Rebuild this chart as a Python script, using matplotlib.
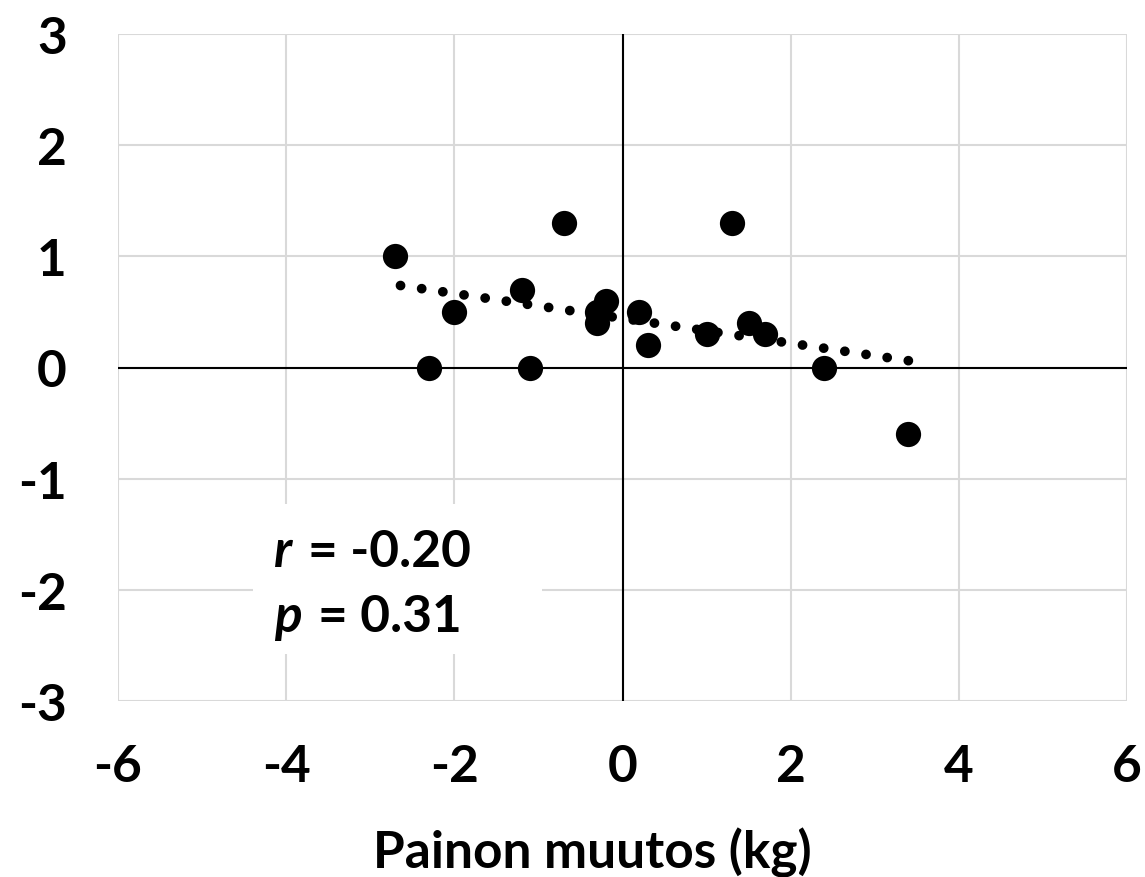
import matplotlib
matplotlib.use("Agg")
import matplotlib.pyplot as plt
import numpy as np
from matplotlib.patches import Rectangle

# Data
weight_change = [-2.7, -2.3, -2.0, -1.2, -1.1, -0.7, -0.3, -0.3, -0.2, 0.2, 0.3, 1.0, 1.3, 1.5, 1.7, 2.4, 3.4]
y_change = [1.0, 0.0, 0.5, 0.7, 0.0, 1.3, 0.4, 0.5, 0.6, 0.5, 0.2, 0.3, 1.3, 0.4, 0.3, 0.0, -0.6]
x_ticks = [-6, -4, -2, 0, 2, 4, 6]
y_ticks = [-3, -2, -1, 0, 1, 2, 3]
x_label = "Painon muutos (kg)"

plt.rcParams['font.family'] = ['Lato', 'DejaVu Sans']
FS = 37
FW = 'bold'

fig = plt.figure(figsize=(11.45, 8.78), dpi=100)
ax = fig.add_axes([118/1145, 1 - 702/878, (1127-118)/1145, (702-35)/878])

ax.set_xlim(-6, 6)
ax.set_ylim(-3, 3)
ax.set_xticks(x_ticks)
ax.set_yticks(y_ticks)
ax.set_xticklabels([str(t) for t in x_ticks], fontsize=FS, fontweight=FW)
ax.set_yticklabels([str(t) for t in y_ticks], fontsize=FS, fontweight=FW)
ax.tick_params(axis='y', length=0, pad=37)
ax.tick_params(axis='x', length=0, pad=30)
for s in ax.spines.values():
    s.set_visible(False)
ax.grid(True, color='#d9d9d9', linewidth=1.5, zorder=0)
ax.set_axisbelow(True)
ax.axhline(0, color='black', linewidth=1.5, zorder=1)
ax.axvline(0, color='black', linewidth=1.5, zorder=1)

ax.scatter(weight_change, y_change, s=330, color='black', zorder=3, linewidths=0)

coef = np.polyfit(weight_change, y_change, 1)
xs = np.array([max(weight_change), min(weight_change)])
ax.plot(xs, np.polyval(coef, xs), color='black', linewidth=7,
        linestyle=(0, (0.01, 2.19)), dash_capstyle='round', zorder=4)

ax.set_xlabel(x_label, fontsize=FS, fontweight=FW, labelpad=27)
ax.xaxis.label.set_x((592 - 118) / 1009)

# stats box
ax.add_patch(Rectangle((-4.39, -2.58), 3.43, 1.35, facecolor='white', edgecolor='none', zorder=2))
ax.text(-4.15, -1.79, "r", fontsize=FS, fontweight=FW, style='italic', zorder=5, va='baseline')
ax.text(-3.74, -1.79, "= -0.20", fontsize=FS, fontweight=FW, zorder=5, va='baseline')
ax.text(-4.15, -2.37, "p", fontsize=FS, fontweight=FW, style='italic', zorder=5, va='baseline')
ax.text(-3.62, -2.37, "= 0.31", fontsize=FS, fontweight=FW, zorder=5, va='baseline')

fig.savefig("out.png", dpi=100)
